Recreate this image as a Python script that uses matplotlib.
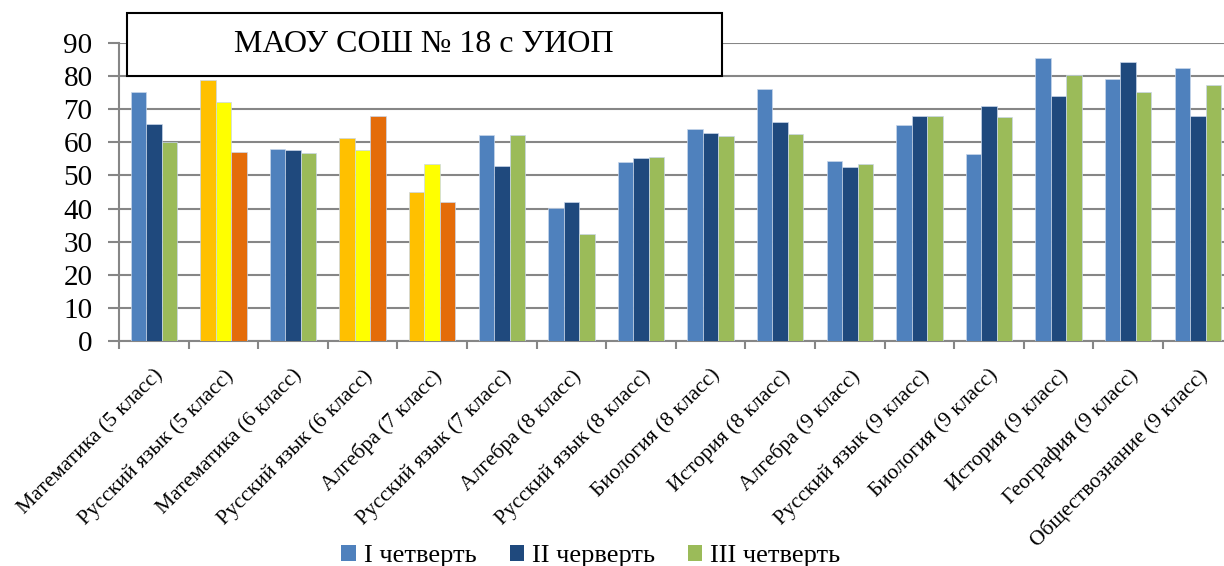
import matplotlib
matplotlib.use('Agg')
import matplotlib.pyplot as plt
from matplotlib.patches import Rectangle, Patch
import numpy as np

plt.rcParams['font.family'] = ['Liberation Serif', 'DejaVu Serif']

# data
subjects = [
    "Математика (5 класс)", "Русский язык (5 класс)", "Математика (6 класс)",
    "Русский язык (6 класс)", "Алгебра (7 класс)", "Русский язык (7 класс)",
    "Алгебра (8 класс)", "Русский язык (8 класс)", "Биология (8 класс)",
    "История (8 класс)", "Алгебра (9 класс)", "Русский язык (9 класс)",
    "Биология (9 класс)", "История (9 класс)", "География (9 класс)",
    "Обществознание (9 класс)",
]
q1 = [75.3, 78.9, 58.1, 61.3, 44.9, 62.3, 40.3, 54.0, 63.9, 76.1, 54.3, 65.2, 56.6, 85.5, 79.0, 82.4]
q2 = [65.4, 72.2, 57.8, 57.7, 53.6, 52.9, 42.1, 55.2, 62.9, 66.1, 52.4, 67.9, 71.0, 74.0, 84.3, 67.9]
q3 = [60.1, 57.1, 56.7, 68.0, 41.9, 62.3, 32.3, 55.7, 61.9, 62.6, 53.4, 67.9, 67.8, 80.2, 75.2, 77.2]
series_names = ["I четверть", "II черверть", "III четверть"]

# highlighted groups use warm colours
highlight = [1, 3, 4]
base_colors = ['#4F81BD', '#1F497D', '#9BBB59']
warm_colors = ['#FFC000', '#FFFF00', '#E46C0A']

fig = plt.figure(figsize=(12.24, 5.66), dpi=100)
W, H = 1224, 566
ax = fig.add_axes([119 / W, 1 - 341 / H, 1113.6 / W, (341 - 43) / H])

x = np.arange(len(subjects))
bw = 0.222
for k, vals in enumerate([q1, q2, q3]):
    cols = [warm_colors[k] if i in highlight else base_colors[k] for i in range(len(subjects))]
    ax.bar(x + (k - 1) * bw, vals, width=bw, color=cols, edgecolor='#c8d6ea',
           linewidth=0.5, zorder=3)

ax.set_xlim(-0.5, len(subjects) - 0.5)
ax.set_ylim(0, 90)
ax.set_yticks(np.arange(0, 91, 10))
ax.tick_params(axis='y', labelsize=21, length=8, width=1.5, color='#868686', pad=11)
ax.grid(axis='y', color='#868686', linewidth=1.5, zorder=0)
ax.set_axisbelow(True)

ax.set_xticks(x)
ax.set_xticklabels(subjects, rotation=45, ha='right', rotation_mode='anchor', fontsize=15.5)
ax.tick_params(axis='x', which='major', length=0, pad=18)
ax.set_xticks(np.arange(-0.5, len(subjects), 1), minor=True)
ax.tick_params(axis='x', which='minor', length=6, width=1.5, color='#868686')

for s in ['top', 'right']:
    ax.spines[s].set_visible(False)
for s in ['left', 'bottom']:
    ax.spines[s].set_color('#868686')
    ax.spines[s].set_linewidth(1.5)

# title box
fig.patches.append(Rectangle((127 / W, 1 - 76 / H), (722 - 127) / W, 63 / H,
                             transform=fig.transFigure, facecolor='white',
                             edgecolor='black', linewidth=1.5, zorder=10))
fig.text(424 / W, 1 - 45 / H, "МАОУ СОШ № 18 с УИОП", ha='center', va='center',
         fontsize=23, zorder=11)

handles = [Patch(facecolor=c, label=n) for c, n in zip(base_colors, series_names)]
fig.legend(handles=handles, loc='center', bbox_to_anchor=(591 / W, 1 - 556 / H),
           ncol=3, frameon=False, fontsize=19, handlelength=0.55, handleheight=0.55,
           handletextpad=0.3, columnspacing=1.25, borderpad=0)

fig.savefig('out.png', dpi=100)
